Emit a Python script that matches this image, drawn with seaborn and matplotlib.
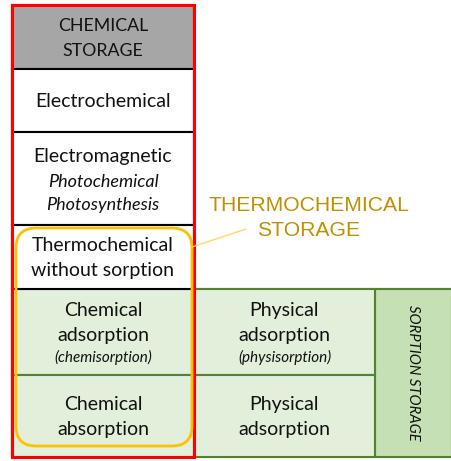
"""
plot.py

Redraws the chemical / thermochemical / sorption storage diagram
as a grid of labelled cells.
"""

import matplotlib.pyplot as plt
import matplotlib.patches as patches
import seaborn as sns

# left column: chemical storage cells, top to bottom
left_labels = [
    "CHEMICAL\nSTORAGE",
    "Electrochemical",
    "Electromagnetic",
    "Thermochemical\nwithout sorption",
    "Chemical\nadsorption",
    "Chemical\nabsorption",
]
left_subs = ["", "", "Photochemical\nPhotosynthesis", "", "(chemisorption)", ""]
# row edges in pixels (top of header to bottom of last row)
row_edges = [5, 69, 132, 225, 289, 375, 457]

# middle column: physical sorption cells
mid_labels = ["Physical\nadsorption", "Physical\nadsorption"]
mid_subs = ["(physisorption)", ""]

side_label = "SORPTION STORAGE"
callout_label = "THERMOCHEMICAL\nSTORAGE"

# column edges in pixels
col_edges = [12, 194, 375, 452]

GRAY = "#a6a6a6"
LIGHT_GREEN = "#e2efda"
DARK_GREEN = "#c5e0b4"
GREEN_LINE = "#548235"
RED = "#ff0000"
ORANGE = "#ffc000"
GOLD_TEXT = "#bf9000"

FONT = "Lato"
SIZE = 14


def draw_cell(ax, x0, x1, y0, y1, face, edge, lw=1.2):
    ax.add_patch(patches.Rectangle((x0, y0), x1 - x0, y1 - y0,
                                   facecolor=face, edgecolor=edge,
                                   linewidth=lw, zorder=1))


def draw_text(ax, x, yc, main, sub):
    # stack main lines and italic sub lines around the cell centre
    line_h = 25
    n_main = main.count("\n") + 1
    sub_lines = sub.split("\n") if sub else []
    small = bool(sub) and "(" in sub
    sub_step = 21 if small else 23
    total = n_main * line_h + len(sub_lines) * sub_step
    y = yc - total / 2 + line_h / 2
    for line in main.split("\n"):
        ax.text(x, y, line, ha="center", va="center", fontsize=SIZE,
                family=FONT, color="#111111", zorder=5)
        y += line_h
    if small:
        y -= 3
    for line in sub_lines:
        ax.text(x, y, line, ha="center", va="center",
                fontsize=11 if small else 13,
                style="italic", family=FONT, color="#111111", zorder=5)
        y += sub_step


def main() -> None:
    sns.set_theme(style="white")
    fig = plt.figure(figsize=(4.52, 4.61), dpi=100)
    ax = fig.add_axes([0, 0, 1, 1])
    ax.set_xlim(0, 452)
    ax.set_ylim(461, 0)
    ax.axis("off")

    x0, x1, x2, x3 = col_edges

    # green sorption block behind left and middle columns
    draw_cell(ax, x0, x3, row_edges[4], row_edges[6], LIGHT_GREEN, GREEN_LINE, 1.5)
    draw_cell(ax, x2, x3, row_edges[4], row_edges[6], DARK_GREEN, GREEN_LINE, 1.5)
    for i in range(2):
        draw_cell(ax, x1, x2, row_edges[4 + i], row_edges[5 + i],
                  LIGHT_GREEN, GREEN_LINE, 1.5)
        draw_cell(ax, x0, x1, row_edges[4 + i], row_edges[5 + i],
                  LIGHT_GREEN, GREEN_LINE, 1.5)

    # upper chemical cells
    draw_cell(ax, x0, x1, row_edges[0], row_edges[1], GRAY, "black", 1.5)
    for i in range(1, 4):
        draw_cell(ax, x0, x1, row_edges[i], row_edges[i + 1], "white", "black", 1.5)

    # red frame around the whole chemical column
    ax.add_patch(patches.Rectangle((x0, row_edges[0]), x1 - x0,
                                   row_edges[-1] - row_edges[0],
                                   facecolor="none", edgecolor=RED,
                                   linewidth=2.2, zorder=4))

    xc = (x0 + x1) / 2
    for i, (lab, sub) in enumerate(zip(left_labels, left_subs)):
        yc = (row_edges[i] + row_edges[i + 1]) / 2
        if i == 0:
            ax.text(xc, yc + 1.5, lab, ha="center", va="center", fontsize=12.8,
                    family=FONT, color="#111111", linespacing=1.65, zorder=5)
        else:
            draw_text(ax, xc, yc + 1, lab, sub)

    xm = (x1 + x2) / 2
    for i, (lab, sub) in enumerate(zip(mid_labels, mid_subs)):
        yc = (row_edges[4 + i] + row_edges[5 + i]) / 2
        draw_text(ax, xm, yc + 1, lab, sub)

    ax.text((x2 + x3) / 2, (row_edges[4] + row_edges[6]) / 2, side_label,
            rotation=-90, ha="center", va="center", fontsize=10.7,
            style="italic", family=FONT, color="#111111", zorder=5)

    # orange rounded box marking thermochemical storage
    ax.add_patch(patches.FancyBboxPatch((16, 228), 176, 218,
                                        boxstyle="round,pad=0,rounding_size=20",
                                        facecolor="none", edgecolor=ORANGE,
                                        linewidth=2, zorder=6))
    ax.plot([192, 246], [247, 229], color="#ffd966", linewidth=1, zorder=6)
    ax.text(309, 218, callout_label, ha="center", va="center",
            fontsize=15.2, family="Liberation Sans", color=GOLD_TEXT,
            linespacing=1.4, zorder=6)

    fig.savefig("out.png", dpi=100)
    plt.close(fig)


if __name__ == "__main__":
    main()
